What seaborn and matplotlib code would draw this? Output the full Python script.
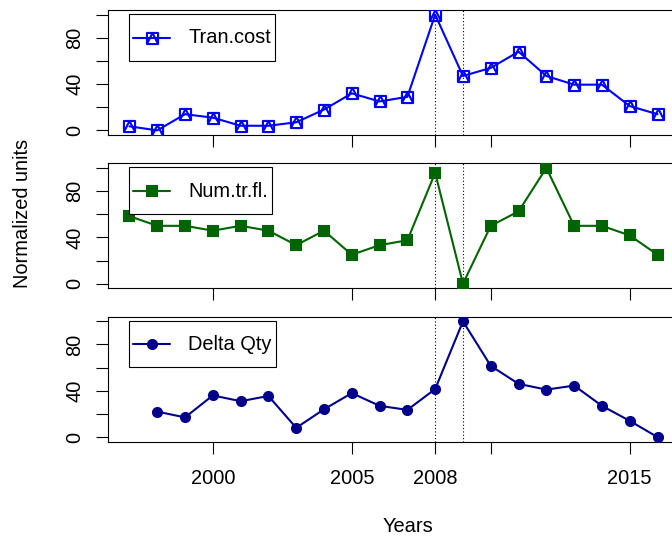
import numpy as np
import pandas as pd
import matplotlib
matplotlib.use('Agg')
import matplotlib.pyplot as plt
from matplotlib.path import Path
from matplotlib.lines import Line2D
from matplotlib.legend_handler import HandlerLine2D
import seaborn as sns

years = list(range(1997, 2017))
tran_cost = [3.5, 0, 14, 11, 4, 4, 7, 18, 32, 25, 29, 100, 47, 54, 68, 47, 39.5, 39.5, 21, 14]
num_tr_fl = [58.3, 50, 50, 45.8, 50, 45.8, 33.3, 45.8, 25, 33.3, 37.5, 95.8, 0, 50, 62.5, 100, 50, 50, 41.7, 25]
delta_qty = [np.nan, 22, 17, 36, 31, 35.5, 8, 24, 38, 27, 23.5, 41.5, 100, 61.5, 46, 41, 44.5, 27, 14, 0]

series_names = ['Tran.cost', 'Num.tr.fl.', 'Delta Qty']
series_colors = ['#0000FF', '#006400', '#00008B']
x_ticks = [2000, 2005, 2008, 2010, 2015]
x_tick_labels = ['2000', '2005', '2008', '', '2015']
y_ticks = [0, 20, 40, 60, 80, 100]
y_tick_labels = ['0', '', '40', '', '80', '']
crisis_years = [2008, 2009]

df = pd.DataFrame({'year': years, 'Tran.cost': tran_cost,
                   'Num.tr.fl.': num_tr_fl, 'Delta Qty': delta_qty})

sns.set_style('ticks')
plt.rcParams['font.family'] = ['Liberation Sans', 'DejaVu Sans']
plt.rcParams['font.size'] = 14.4
plt.rcParams['text.color'] = 'black'


class MidLine(HandlerLine2D):
    # tall legend box, but keep the sample line level with the text
    def create_artists(self, *args, **kwargs):
        arts = super().create_artists(*args, **kwargs)
        for a in arts:
            a.set_ydata(np.asarray(a.get_ydata()) - 5.0)
        return arts


# R pch 14: open square with a triangle inside
box_tri = Path([(-1, -1), (1, -1), (1, 1), (-1, 1), (-1, -1), (-1, -1), (0, 1), (1, -1)],
               [Path.MOVETO, Path.LINETO, Path.LINETO, Path.LINETO, Path.CLOSEPOLY,
                Path.MOVETO, Path.LINETO, Path.LINETO])
markers = [box_tri, 's', 'o']
msizes = [8, 7, 6.5]
faces = ['none', series_colors[1], series_colors[2]]

fig = plt.figure(figsize=(6.72, 5.39), dpi=100)
bottoms = [0.7495, 0.4651, 0.1805]

for i, name in enumerate(series_names):
    ax = fig.add_axes([0.1612, bottoms[i], 0.8487, 0.2319])
    for yr in crisis_years:
        ax.axvline(yr, color='black', ls=(0, (1, 2)), lw=0.8, zorder=1)
    sns.lineplot(data=df, x='year', y=name, ax=ax, color=series_colors[i],
                 marker=markers[i], markersize=msizes[i], markerfacecolor=faces[i],
                 markeredgecolor=series_colors[i], markeredgewidth=1.5,
                 linewidth=1.5, label=name, zorder=3)
    ax.set_xlim(1996.24, 2016.76)
    ax.set_ylim(-4, 104)
    ax.set_xlabel('')
    ax.set_ylabel('')
    ax.set_xticks(x_ticks)
    ax.set_yticks(y_ticks)
    ax.set_yticklabels(y_tick_labels, rotation=90, va='center')
    if i == 2:
        ax.set_xticklabels(x_tick_labels)
    else:
        ax.tick_params(axis='x', labelbottom=False)
    ax.tick_params(axis='x', length=8.3, width=0.8, pad=11.5, colors='black', labelsize=14.4)
    ax.tick_params(axis='y', length=8.3, width=0.8, pad=9, colors='black', labelsize=14.4)
    for sp in ax.spines.values():
        sp.set_linewidth(0.8)
        sp.set_color('black')
    leg = ax.legend(loc='upper left', bbox_to_anchor=(21 / 570.3, 1 - 4 / 125),
                    borderaxespad=0, frameon=True, fancybox=False, framealpha=1,
                    edgecolor='black', borderpad=0.2, handlelength=1.85,
                    handletextpad=0.9, handleheight=2.6, fontsize=14.4,
                    handler_map={Line2D: MidLine()})
    leg.get_frame().set_linewidth(0.8)

fig.text(408 / 672, 1 - 526 / 539, 'Years', ha='center', va='center', fontsize=14.4)
fig.text(23 / 672, 1 - 213 / 539, 'Normalized units', ha='center', va='center',
         rotation=90, fontsize=14.4)

fig.savefig('out.png', dpi=100)
